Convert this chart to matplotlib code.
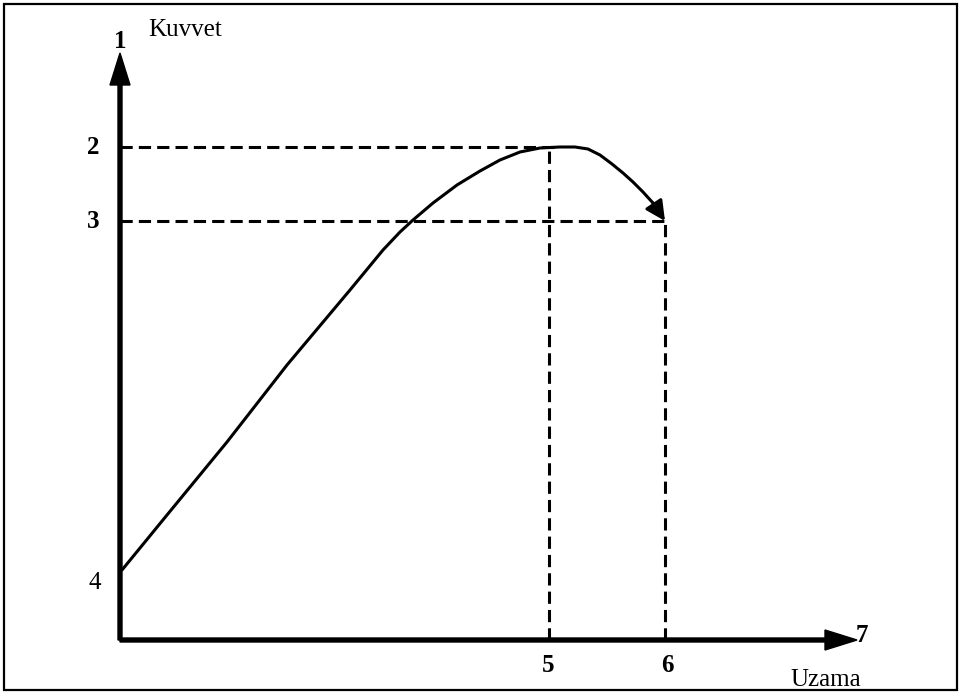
import numpy as np
import matplotlib
matplotlib.use('Agg')
import matplotlib.pyplot as plt
from matplotlib.patches import Rectangle

# kuvvet - uzama egrisi (degerler pikselden okundu, orijin sol alt)
uzama = [2, 47, 107, 167, 230, 263, 280, 293, 313, 337, 360, 380, 400, 420,
         440, 455, 468, 480, 492, 503, 513, 523, 533]
kuvvet = [70, 125, 198, 275, 350, 390, 408, 420, 437, 455, 469, 480, 488, 492,
          493, 493, 491, 485, 476, 467, 458, 448, 437]
ok_uc = (545, 419)  # ok ucu

seviye_2 = 493  # max kuvvet
seviye_3 = 419  # kopma kuvveti
seviye_4 = 67
uzama_5 = 429
uzama_6 = 545

etiketler = ['1', '2', '3', '4', '5', '6', '7']

plt.rcParams['font.family'] = ['Liberation Serif', 'DejaVu Serif']

fig = plt.figure(figsize=(9.61, 6.97), dpi=100)
ax = fig.add_axes([0, 0, 1, 1])
ax.set_xlim(-120, 841)
ax.set_ylim(-57, 640)
ax.axis('off')

# cerceve
ax.add_patch(Rectangle((-116, -50), 953, 686, fill=False, lw=1.6, ec='black'))

# eksenler
ax.arrow(0, 0, 0, 587, width=4, head_width=20, head_length=32,
         length_includes_head=True, color='black')
ax.arrow(0, 0, 737, 0, width=4, head_width=20, head_length=32,
         length_includes_head=True, color='black')

# kesikli cizgiler
ds = dict(color='black', lw=2.2, linestyle=(0, (4, 2)))
ax.plot([0, uzama_5 + 10], [seviye_2, seviye_2], **ds)
ax.plot([0, uzama_6], [seviye_3, seviye_3], **ds)
ax.plot([uzama_5, uzama_5], [0, seviye_2], **ds)
ax.plot([uzama_6, uzama_6], [0, seviye_3], **ds)

# egri
ax.plot(uzama, kuvvet, color='black', lw=2.2, solid_capstyle='round',
        solid_joinstyle='round')
ax.annotate('', xy=ok_uc, xytext=(uzama[-1], kuvvet[-1]),
            arrowprops=dict(arrowstyle='-|>', color='black', lw=2.2,
                            mutation_scale=30, shrinkA=0, shrinkB=0))

fs = 18
ax.text(0, 598, etiketler[0], fontsize=fs, ha='center', va='center', fontweight='bold')
ax.text(28, 610, 'Kuvvet', fontsize=fs, ha='left', va='center')
ax.text(-27, seviye_2, etiketler[1], fontsize=fs, ha='center', va='center', fontweight='bold')
ax.text(-27, seviye_3, etiketler[2], fontsize=fs, ha='center', va='center', fontweight='bold')
ax.text(-25, 57, etiketler[3], fontsize=fs, ha='center', va='center')
ax.text(uzama_5 - 1, -25, etiketler[4], fontsize=fs, ha='center', va='center', fontweight='bold')
ax.text(uzama_6 + 2, -25, etiketler[5], fontsize=fs, ha='center', va='center', fontweight='bold')
ax.text(736, 4, etiketler[6], fontsize=fs, ha='left', va='center', fontweight='bold')
ax.text(706, -40, 'Uzama', fontsize=fs, ha='center', va='center')

fig.savefig('out.png', dpi=100)
